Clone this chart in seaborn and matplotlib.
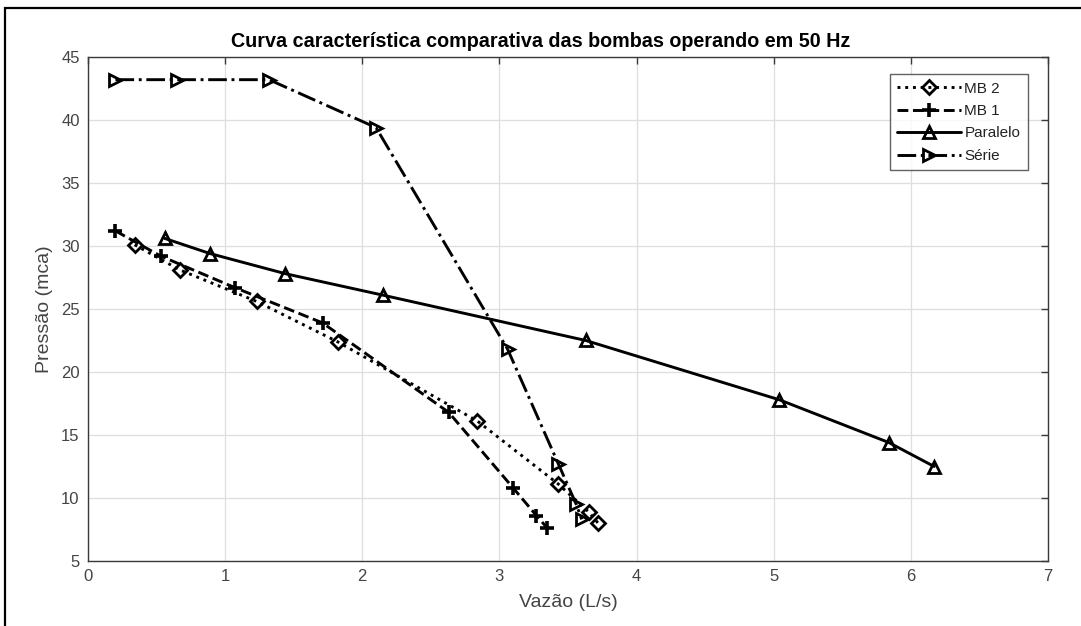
import matplotlib
matplotlib.use("Agg")
import matplotlib.pyplot as plt
from matplotlib.patches import Rectangle
import seaborn as sns
import pandas as pd

# Vazão (L/s) and pressão (mca) for each pump configuration
mb2_q = [0.34, 0.67, 1.23, 1.82, 2.84, 3.43, 3.65, 3.72]
mb2_h = [30.1, 28.1, 25.6, 22.4, 16.1, 11.1, 8.9, 8.0]

mb1_q = [0.20, 0.53, 1.07, 1.71, 2.63, 3.10, 3.27, 3.35]
mb1_h = [31.2, 29.2, 26.7, 23.9, 16.8, 10.8, 8.6, 7.6]

par_q = [0.56, 0.89, 1.44, 2.15, 3.63, 5.04, 5.84, 6.17]
par_h = [30.6, 29.4, 27.8, 26.1, 22.5, 17.8, 14.4, 12.5]

ser_q = [0.20, 0.65, 1.32, 2.10, 3.06, 3.43, 3.56, 3.60]
ser_h = [43.2, 43.2, 43.2, 39.4, 21.8, 12.7, 9.5, 8.3]

x_ticks = [0, 1, 2, 3, 4, 5, 6, 7]
y_ticks = [5, 10, 15, 20, 25, 30, 35, 40, 45]

sns.set_theme(style="white")
plt.rcParams["font.family"] = ["Liberation Sans", "DejaVu Sans"]

fig = plt.figure(figsize=(10.81, 6.26), dpi=100)
ax = fig.add_axes([88 / 1081, 1 - 561 / 626, 960 / 1081, 504 / 626])

# name, x, y, linestyle, marker, marker size, dash pattern
series = [
    ("MB 2", mb2_q, mb2_h, ":", "D", 7.2, (0.6, 1.2)),
    ("MB 1", mb1_q, mb1_h, "--", "+", 10, (4.5, 3.5)),
    ("Paralelo", par_q, par_h, "-", "^", 8.5, None),
    ("Série", ser_q, ser_h, "-.", ">", 8.5, (4.5, 1.6, 1.0, 1.6)),
]

for name, q, h, ls, mk, ms, dashes in series:
    df = pd.DataFrame({"q": q, "h": h})
    kws = dict(color="black", linestyle=ls, linewidth=2.1, marker=mk,
               markersize=ms, markeredgecolor="black",
               markeredgewidth=2.6 if mk == "+" else 2.0,
               markerfacecolor="none", sort=False, estimator=None, label=name)
    if dashes is not None:
        kws["dashes"] = dashes
    sns.lineplot(data=df, x="q", y="h", ax=ax, **kws)

ax.set_xlim(0, 7)
ax.set_ylim(5, 45)
ax.set_xticks(x_ticks)
ax.set_yticks(y_ticks)
ax.grid(True, color="#dedede", linewidth=0.9)
ax.set_axisbelow(True)

for sp in ax.spines.values():
    sp.set_color("#3a3a3a")
    sp.set_linewidth(1.0)

ax.tick_params(direction="in", top=True, right=True, length=5, width=1,
               colors="#3a3a3a", labelsize=12, labelcolor="#444444", pad=6)

ax.set_xlabel("Vazão (L/s)", fontsize=14, color="#444444", labelpad=7)
ax.set_ylabel("Pressão (mca)", fontsize=14, color="#444444", labelpad=6)
ax.set_title("Curva característica comparativa das bombas operando em 50 Hz",
             fontsize=14.2, fontweight="bold", color="black", pad=7,
             x=(541 - 88) / 960)

leg = ax.legend(loc="upper right", bbox_to_anchor=((1028 - 88) / 960, (561 - 74) / 504),
                borderaxespad=0, fontsize=11, frameon=True, fancybox=False,
                handlelength=4.2, handletextpad=0.2, borderpad=0.5,
                labelspacing=0.55)
leg.get_frame().set_edgecolor("#3a3a3a")
leg.get_frame().set_linewidth(1.0)
for t in leg.get_texts():
    t.set_color("#222222")

# outer frame around the figure
fig.patches.append(Rectangle((5 / 1081, -0.2), 1.2, (626 - 8) / 626 + 0.2,
                             transform=fig.transFigure, fill=False,
                             edgecolor="black", linewidth=1.6))

fig.savefig("out.png", dpi=100)
